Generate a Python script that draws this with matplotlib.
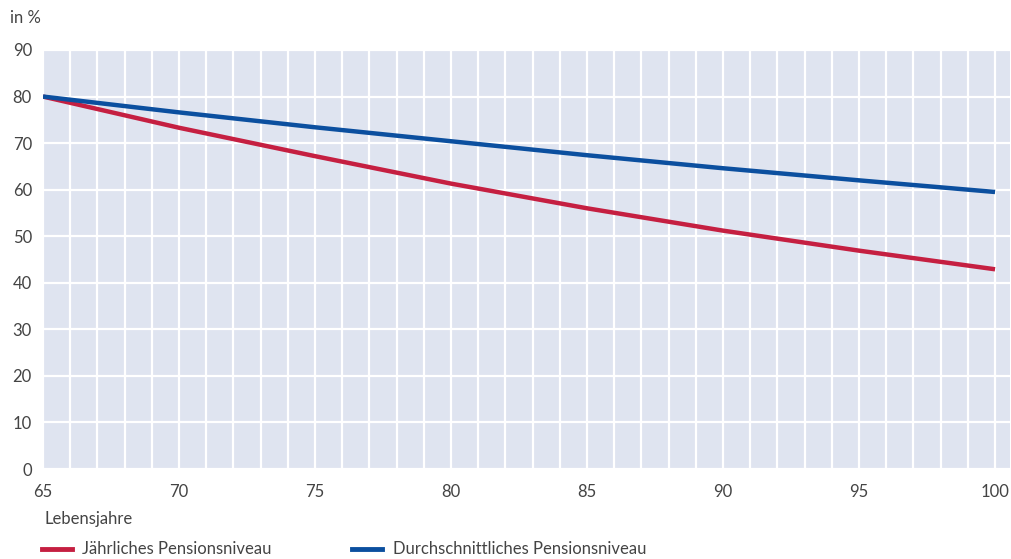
import numpy as np
import matplotlib.pyplot as plt

plt.rcParams['font.family'] = ['Lato', 'DejaVu Sans']

# Lebensjahre and pension levels (in %)
age = [65, 70, 75, 80, 85, 90, 95, 100]
jaehrlich = [80.0, 73.3, 67.2, 61.3, 56.0, 51.2, 46.9, 42.9]
durchschnitt = [80.0, 76.6, 73.4, 70.4, 67.4, 64.6, 62.0, 59.5]
yticks = [0, 10, 20, 30, 40, 50, 60, 70, 80, 90]
xticks = [65, 70, 75, 80, 85, 90, 95, 100]

red = '#c51f41'
blue = '#0b4f9f'
text_col = '#444444'

fig = plt.figure(figsize=(10.12, 5.59), dpi=100)
ax = fig.add_axes([43/1012, 1 - 469/559, (1010 - 43)/1012, (469 - 50)/559])
ax.set_facecolor('#dfe4f0')

ax.plot(age, jaehrlich, color=red, lw=3.2, solid_capstyle='butt', zorder=3)
ax.plot(age, durchschnitt, color=blue, lw=3.2, solid_capstyle='butt', zorder=3)

ax.set_xlim(65, 100.55)
ax.set_ylim(0, 90)
ax.set_xticks(xticks)
ax.set_yticks(yticks)
ax.set_xticks(np.arange(65, 101, 1), minor=True)
ax.grid(True, which='both', color='white', lw=1.6, zorder=1)
ax.set_axisbelow(True)
for s in ax.spines.values():
    s.set_visible(False)
ax.tick_params(which='both', length=0, labelsize=12, colors=text_col)
ax.tick_params(axis='y', pad=8)
ax.tick_params(axis='x', pad=11)

fig.text(10/1012, 1 - 18/559, 'in %', fontsize=12, color=text_col, va='center')
fig.text(45/1012, 1 - 519/559, 'Lebensjahre', fontsize=12, color=text_col, va='center')

# legend
ly = 1 - 549/559
fig.lines.append(plt.Line2D([42/1012, 72/1012], [ly, ly], color=red, lw=3.5,
                            transform=fig.transFigure))
fig.text(82/1012, ly, 'Jährliches Pensionsniveau', fontsize=12, color=text_col, va='center')
fig.lines.append(plt.Line2D([352/1012, 382/1012], [ly, ly], color=blue, lw=3.5,
                            transform=fig.transFigure))
fig.text(393/1012, ly, 'Durchschnittliches Pensionsniveau', fontsize=12, color=text_col, va='center')

fig.savefig('out.png', dpi=100, facecolor='white')
